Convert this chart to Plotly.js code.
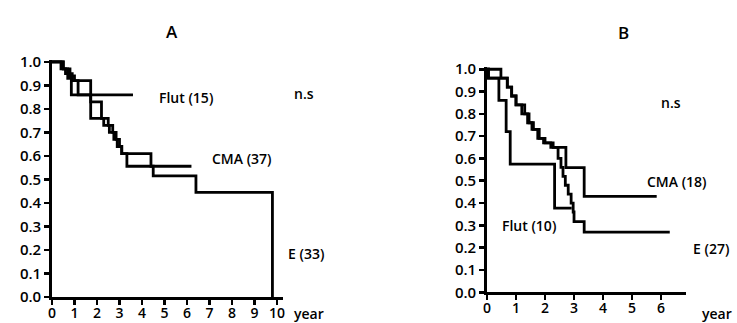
<!DOCTYPE html>
<html>
<head>
<meta charset="utf-8">
<script src="https://cdn.plot.ly/plotly-3.0.1.min.js"></script>
<style>html,body{margin:0;padding:0;background:#fff;}#chart{width:737px;height:323px;}</style>
</head>
<body>
<div id="chart"></div>
<script>
// Panel A (time in years, survival fraction)
const aFlutT = [0, 0.5, 0.7, 0.86, 3.6];
const aFlutS = [1.0, 0.97, 0.93, 0.86, 0.86];
const aCmaT = [0, 0.4, 0.6, 0.9, 1.72, 2.2, 2.5, 2.7, 2.85, 3.0, 3.1, 4.4, 6.2];
const aCmaS = [1.0, 0.97, 0.95, 0.92, 0.83, 0.76, 0.73, 0.70, 0.67, 0.64, 0.61, 0.556, 0.556];
const aET = [0, 0.5, 0.8, 1.0, 1.16, 1.72, 2.3, 2.55, 2.75, 2.9, 3.1, 3.33, 4.5, 6.4, 9.8];
const aES = [1.0, 0.97, 0.94, 0.92, 0.86, 0.76, 0.73, 0.70, 0.67, 0.64, 0.61, 0.556, 0.515, 0.445, 0.0];
// Panel B
const bFlutT = [0, 0.05, 0.41, 0.66, 0.8, 2.33, 2.92];
const bFlutS = [1.0, 0.96, 0.86, 0.72, 0.575, 0.377, 0.377];
const bCmaT = [0, 0.48, 0.7, 0.85, 1.0, 1.3, 1.45, 1.6, 1.8, 2.0, 2.2, 2.72, 3.35, 5.85];
const bCmaS = [1.0, 0.96, 0.92, 0.88, 0.84, 0.80, 0.76, 0.73, 0.69, 0.67, 0.65, 0.559, 0.43, 0.43];
const bET = [0, 0.05, 0.7, 0.85, 1.0, 1.2, 1.4, 1.55, 1.75, 1.95, 2.28, 2.45, 2.55, 2.62, 2.7, 2.8, 2.9, 2.97, 3.0, 3.35, 6.3];
const bES = [1.0, 0.96, 0.92, 0.88, 0.84, 0.80, 0.76, 0.73, 0.69, 0.67, 0.65, 0.60, 0.56, 0.52, 0.48, 0.44, 0.40, 0.36, 0.317, 0.27, 0.27];

const yTicks = [0, 0.1, 0.2, 0.3, 0.4, 0.5, 0.6, 0.7, 0.8, 0.9, 1.0];
const aXTicks = [0, 1, 2, 3, 4, 5, 6, 7, 8, 9, 10];
const bXTicks = [0, 1, 2, 3, 4, 5, 6];

const W = 737, H = 323;
const px = x => x / W, py = y => 1 - y / H;
const FONT = "Open Sans, DejaVu Sans, sans-serif";

function step(x, y, xa, ya) {
  return {x: x, y: y, xaxis: xa, yaxis: ya, mode: 'lines', line: {shape: 'hv', color: '#000', width: 2.8}, hoverinfo: 'skip'};
}
const data = [
  step(aFlutT, aFlutS, 'x', 'y'), step(aCmaT, aCmaS, 'x', 'y'), step(aET, aES, 'x', 'y'),
  step(bFlutT, bFlutS, 'x2', 'y2'), step(bCmaT, bCmaS, 'x2', 'y2'), step(bET, bES, 'x2', 'y2')
];
const axBase = {showline: true, linecolor: '#000', linewidth: 2.8, ticks: 'outside', ticklen: 5, tickwidth: 2.6, tickcolor: '#000', showgrid: false, zeroline: false, fixedrange: true};
const xFont = {size: 14, color: '#000', family: FONT, weight: 600};
const yFont = {size: 15, color: '#000', family: FONT, weight: 600};
const layout = {
  width: W, height: H, margin: {l: 0, r: 0, t: 0, b: 0}, showlegend: false,
  paper_bgcolor: '#fff', plot_bgcolor: '#fff', font: {family: FONT, color: '#000'},
  xaxis: Object.assign({}, axBase, {domain: [px(52), px(283)], range: [0, 10.27], tickvals: aXTicks, ticktext: aXTicks.map(String), anchor: 'y', tickfont: xFont, ticklabelstandoff: -4}),
  yaxis: Object.assign({}, axBase, {domain: [py(297), py(60)], range: [0, 1.008], tickvals: yTicks, ticktext: yTicks.map(v => v.toFixed(1)), anchor: 'x', tickfont: yFont}),
  xaxis2: Object.assign({}, axBase, {domain: [px(487), px(686)], range: [0, 6.86], tickvals: bXTicks, ticktext: bXTicks.map(String), anchor: 'y2', tickfont: xFont, ticklabelstandoff: -4}),
  yaxis2: Object.assign({}, axBase, {domain: [py(292.3), py(67)], range: [0, 1.01], tickvals: yTicks, ticktext: yTicks.map(v => v.toFixed(1)), anchor: 'x2', tickfont: yFont}),
  annotations: [
    ['A', 172, 31, 17], ['B', 623, 33, 17],
    ['Flut (15)', 186, 98, 14], ['n.s', 304, 93, 14], ['CMA (37)', 242, 158, 14], ['E (33)', 306, 253, 14], ['year', 309, 313, 14],
    ['n.s', 671, 102, 14], ['CMA (18)', 677, 182, 14], ['E (27)', 711, 248, 14], ['Flut (10)', 529, 225, 14], ['year', 717, 313, 14]
  ].map(a => ({text: a[0], x: px(a[1]), y: py(a[2]), xref: 'paper', yref: 'paper', xanchor: 'center', yanchor: 'middle', showarrow: false, font: {size: a[3], color: '#000', family: FONT, weight: 600}}))
};
Plotly.newPlot('chart', data, layout, {displayModeBar: false, staticPlot: true});
</script>
</body>
</html>
